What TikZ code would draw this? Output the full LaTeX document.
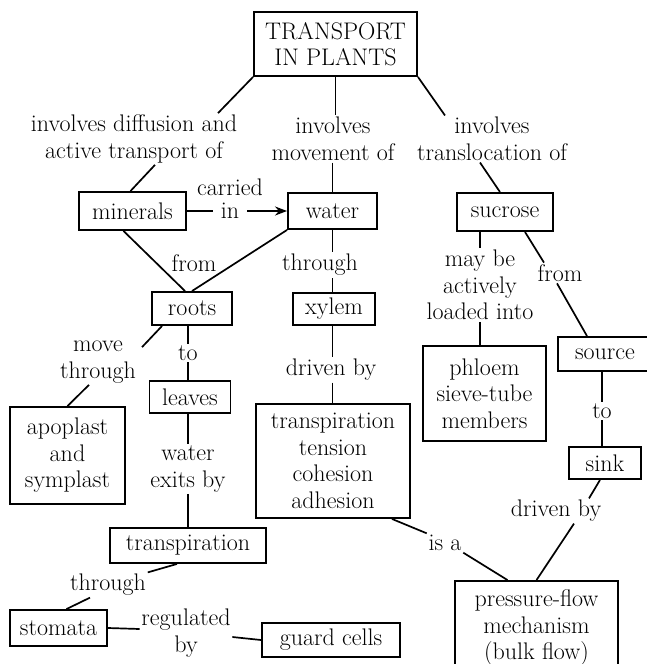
\documentclass[tikz,border=0pt]{standalone}
\usetikzlibrary{positioning}
\usetikzlibrary{calc}
\usetikzlibrary{arrows.meta}

\begin{document}
\begin{tikzpicture}[x=1pt, y=-1pt, line width=1.7pt,
    every node/.style={font=\fontsize{24}{26.5}\selectfont, align=center},
    box/.style={draw, line width=1.9pt, inner sep=0pt},
    lbl/.style={inner sep=1pt}]
    \useasboundingbox (0,0) rectangle (647,664);
    \clip (0,0) rectangle (647,664);

    % Concept boxes
    \node[box, minimum width=163, minimum height=64] (plants) at (335.5,44) {TRANSPORT\\IN PLANTS};
    \node[box, minimum width=107, minimum height=38] (minerals) at (132.5,211) {minerals};
    \node[box, minimum width=89, minimum height=36] (water) at (332.5,211) {water};
    \node[box, minimum width=96, minimum height=38] (sucrose) at (505,212) {sucrose};
    \node[box, minimum width=80, minimum height=33] (roots) at (192,308.5) {roots};
    \node[box, minimum width=82, minimum height=32] (xylem) at (334,309) {xylem};
    \node[box, minimum width=81, minimum height=32] (leaves) at (190,397) {leaves};
    \node[box, minimum width=115, minimum height=97] (apoplast) at (67.5,455.5) {apoplast\\and\\symplast};
    \node[box, minimum width=154, minimum height=114] (forces) at (333,461) {transpiration\\tension\\cohesion\\adhesion};
    \node[box, minimum width=123, minimum height=95] (phloem) at (484.5,393.5) {phloem\\sieve-tube\\members};
    \node[box, minimum width=94, minimum height=34] (source) at (605,354) {source};
    \node[box, minimum width=72, minimum height=32] (sink) at (605,463) {sink};
    \node[box, minimum width=156, minimum height=35] (transp) at (188,545.5) {transpiration};
    \node[box, minimum width=97, minimum height=36] (stomata) at (58.5,628) {stomata};
    \node[box, minimum width=138, minimum height=34] (guard) at (331,640) {guard cells};
    \node[box, minimum width=163, minimum height=94] (pressure) at (536.5,628) {pressure-flow\\mechanism\\(bulk flow)};

    % Linking phrases
    \node[lbl] (l_diff) at (134,139) {involves diffusion and\\active transport of};
    \node[lbl] (l_move) at (333,139) {involves\\movement of};
    \node[lbl] (l_transl) at (492,139) {involves\\translocation of};
    \node[lbl] (l_from1) at (194,263) {from};
    \node[lbl] (l_thr1) at (320,265) {through};
    \node[lbl] (l_mayb) at (480,285) {may be\\actively\\loaded into};
    \node[lbl] (l_from2) at (560,273) {from};
    \node[lbl] (l_movethr) at (98,362) {move\\through};
    \node[lbl] (l_to1) at (188,353) {to};
    \node[lbl] (l_drv1) at (331,370) {driven by};
    \node[lbl] (l_to2) at (602,411) {to};
    \node[lbl] (l_wex) at (188,469) {water\\exits by};
    \node[lbl] (l_drv2) at (556,511) {driven by};
    \node[lbl] (l_isa) at (445,543) {is a};
    \node[lbl] (l_thr2) at (108,585) {through};
    \node[lbl] (l_reg) at (186,633) {regulated\\by};

    % Top level
    \draw (plants.south west) -- ([xshift=84]l_diff.north);
    \draw ([xshift=21]l_diff.south) -- ([xshift=-2]minerals.north);
    \draw (plants.south) -- (plants.south |- l_move.north);
    \draw (water.north |- l_move.south) -- (water.north);
    \draw (plants.south east) -- ([xshift=-47]l_transl.north);
    \draw ([xshift=-12]l_transl.south) -- ([xshift=-5]sucrose.north);

    % Minerals and water
    \draw[-{Stealth[length=12pt,width=9pt]}] (minerals.east) -- node[lbl, pos=0.43, fill=white, inner xsep=8pt, inner ysep=0pt] (l_in) {in} (water.west);
    \node[lbl, above=5pt of l_in] (l_carried) {carried};
    \draw ([xshift=-9]minerals.south) -- ([xshift=-7]roots.north);
    \draw (water.south west) -- (roots.north);
    \draw (water.south) -- (water.south |- l_thr1.north);
    \draw (xylem.north -| water.south) -- (water.south |- l_thr1.south);

    % Roots and leaves
    \draw ([xshift=11]roots.south west) -- ([xshift=44,yshift=-8]l_movethr.north);
    \draw ([xshift=-9]l_movethr.south) -- (apoplast.north);
    \draw (l_to1 |- roots.south) -- (l_to1.north);
    \draw (l_to1.south) -- (l_to1.south |- leaves.north);
    \draw (l_wex |- leaves.south) -- (l_wex.north);
    \draw (l_wex.south) -- (transp.north);
    \draw ([xshift=-11]transp.south) -- (l_thr2.north east);
    \draw ([xshift=-18]l_thr2.south) -- ([xshift=8]stomata.north);
    \draw (stomata.east) -- ([yshift=4]l_reg.west);
    \draw ([yshift=-4]l_reg.east) -- (guard.west);

    % Xylem
    \draw (xylem.south -| water.south) -- (water.south |- l_drv1.north);
    \draw (water.south |- l_drv1.south) -- (water.south |- forces.north);
    \draw ([xshift=59]forces.south) -- (l_isa.north west);
    \draw (l_isa.south east) -- ([xshift=-29]pressure.north);

    % Sucrose
    \draw (l_mayb.north |- sucrose.south) -- (l_mayb.north);
    \draw (l_mayb.south) -- (l_mayb.south |- phloem.north);
    \draw ([xshift=20]sucrose.south) -- ([xshift=-16]l_from2.north);
    \draw ([xshift=-3]l_from2.south) -- ([xshift=-18]source.north);
    \draw (l_to2 |- source.south) -- (l_to2.north);
    \draw (l_to2.south) -- (l_to2.south |- sink.north);
    \draw ([xshift=-5]sink.south) -- ([xshift=33]l_drv2.north);
    \draw ([xshift=18]l_drv2.south) -- (pressure.north);
\end{tikzpicture}
\end{document}
